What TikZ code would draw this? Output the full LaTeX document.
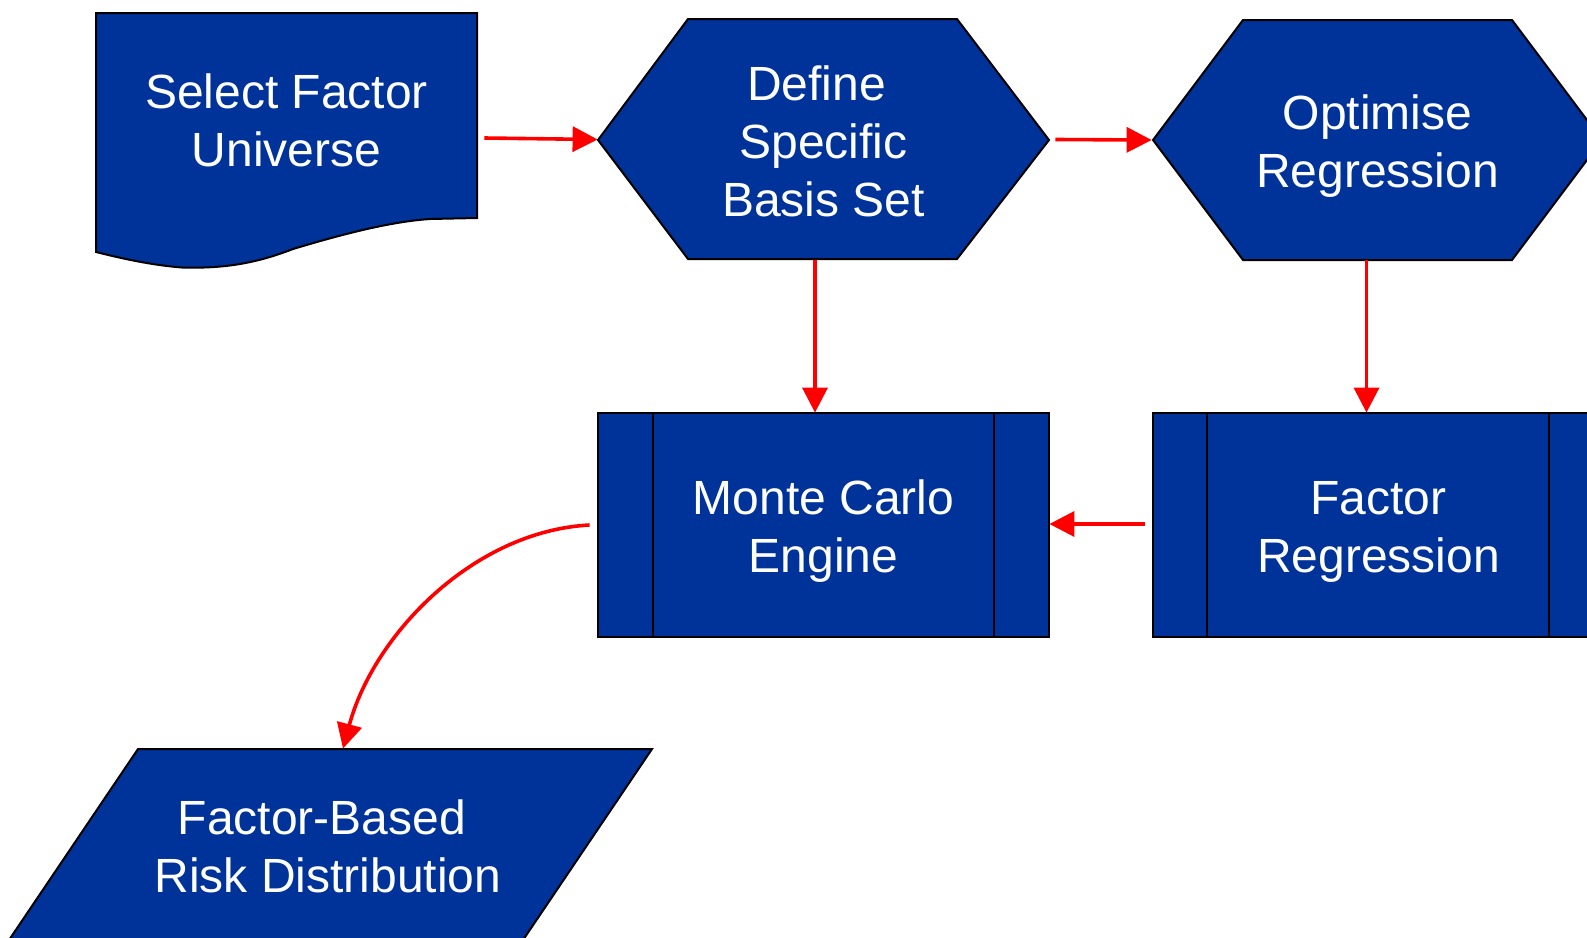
\documentclass[tikz,border=0pt]{standalone}
\usepackage{fontspec}
\setmainfont{Liberation Sans}
\usetikzlibrary{arrows.meta,calc}
\definecolor{boxblue}{RGB}{0,51,153}
\tikzset{
  shp/.style={fill=boxblue, draw=black, line width=1pt, line join=miter},
  sep/.style={draw=black, line width=1pt},
  lbl/.style={text=white, align=center, inner sep=0pt, font=\fontsize{24}{29}\selectfont},
  arr/.style={draw=red, line width=1.8pt, -{Triangle[length=12.5pt,width=12.5pt]}},
}
\begin{document}
\begin{tikzpicture}[x=0.5pt,y=-0.5pt]
\useasboundingbox (0,0) rectangle (1587,938);
\clip (0,0) rectangle (1587,938);
% shapes
\path[shp] (96,13) -- (477,13) -- (477,218) -- (430,219)
  .. controls (385,222) and (330,238) .. (293,249)
  .. controls (262,261) and (230,269) .. (182,267.5)
  .. controls (150,265) and (120,258) .. (96,252) -- cycle;
\path[shp] (598,140) -- (688,19) -- (957,19) -- (1049,140) -- (957,259) -- (688,259) -- cycle;
\path[shp] (1153,140) -- (1243,20) -- (1512,20) -- (1602,140) -- (1512,260) -- (1243,260) -- cycle;
\path[shp] (598,413) rectangle (1049,637);
\path[sep] (653,413) -- (653,637) (994,413) -- (994,637);
\path[shp] (1153,413) rectangle (1604,637);
\path[sep] (1207,413) -- (1207,637) (1549,413) -- (1549,637);
\path[shp] (138,749) -- (652,749) -- (521,943) -- (7,943) -- cycle;
% nodes
\node[lbl, minimum width=190.5pt, minimum height=100pt] (doc) at (286.5,120) {Select Factor\\Universe};
\node[lbl, minimum width=225.5pt, minimum height=118pt] (def) at (823.5,141.5) {Define\hbox to 7pt{}\\Specific\\Basis Set};
\node[lbl, minimum width=224.5pt, minimum height=114pt] (opt) at (1377.5,146) {Optimise\\Regression};
\node[lbl, minimum width=225.5pt, minimum height=118pt] (mc) at (823.5,531) {Monte Carlo\\Engine};
\node[lbl, minimum width=225.5pt, minimum height=119pt] (fr) at (1378.5,532) {Factor\\Regression};
\node[lbl, minimum width=200pt, minimum height=97pt] (risk) at (328,846) {Factor-Based\hbox to 6pt{}\\Risk Distribution};
% connectors
\draw[arr] ($(doc.east)+(7,18)$) -- ($(def.west)+(0,-2)$);
\draw[arr] ($(def.east)+(6,-2)$) -- ($(opt.west)+(-1,-6)$);
\draw[arr] ($(def.south)+(-8.5,0)$) -- ($(mc.north)+(-8.5,0)$);
\draw[arr] ($(opt.south)+(-11,0)$) -- ($(fr.north)+(-12,0)$);
\draw[arr] ($(fr.west)+(-8,-8)$) -- ($(mc.east)+(0,-7)$);
\draw[arr] ($(mc.west)+(-8,-6)$) to[out=183,in=75,looseness=0.9] ($(risk.north)+(15,0)$);
\end{tikzpicture}
\end{document}
